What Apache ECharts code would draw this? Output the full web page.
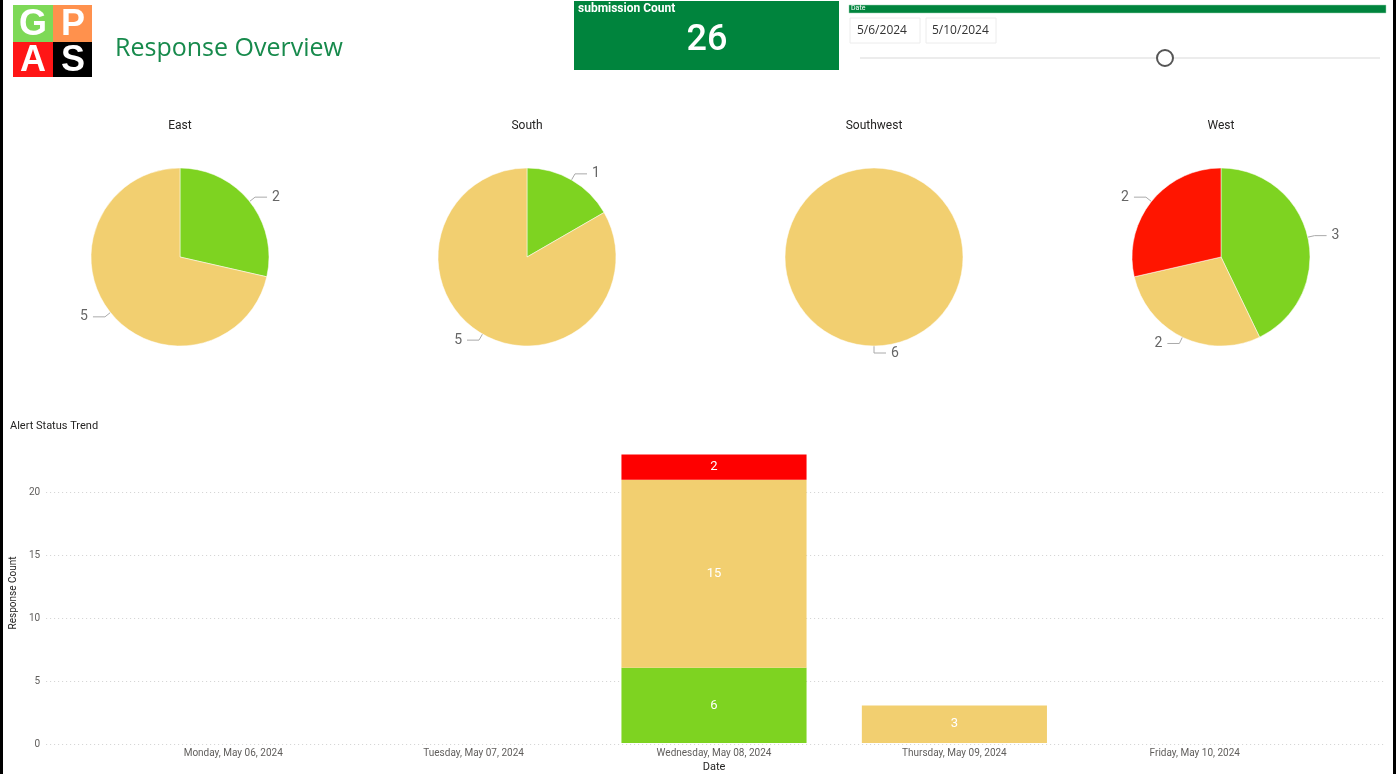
<!DOCTYPE html>
<html>
<head>
<meta charset="utf-8">
<title>Response Overview</title>
<script src="https://cdn.jsdelivr.net/npm/echarts@6/dist/echarts.min.js"></script>
<style>
  html, body { margin: 0; padding: 0; background: #fff; }
  #main { width: 1399px; height: 774px; }
</style>
</head>
<body>
<div id="main"></div>
<script>
// ---- data ----
var regions = ['East', 'South', 'Southwest', 'West'];
var statusNames = ['Green', 'Amber', 'Red'];
var regionGreen = [2, 1, 0, 3];
var regionAmber = [5, 5, 6, 2];
var regionRed = [0, 0, 0, 2];

var dates = ['Monday, May 06, 2024', 'Tuesday, May 07, 2024', 'Wednesday, May 08, 2024', 'Thursday, May 09, 2024', 'Friday, May 10, 2024'];
var trendGreen = [0, 0, 6, 0, 0];
var trendAmber = [0, 0, 15, 3, 0];
var trendRed = [0, 0, 2, 0, 0];

var submissionCount = 26;
var dateFrom = '5/6/2024';
var dateTo = '5/10/2024';

var GREEN = '#7ED321', AMBER = '#F2CF70', RED_PIE = '#FF1500', RED_BAR = '#FE0000';
var font = 'Roboto, "Noto Sans", sans-serif';

var myChart = echarts.init(document.getElementById('main'));

var pieCenters = [180, 527, 874, 1221];
var pieSeries = regions.map(function (r, i) {
    var d = [];
    if (regionGreen[i]) d.push({ value: regionGreen[i], name: statusNames[0], itemStyle: { color: GREEN } });
    if (regionAmber[i]) d.push({ value: regionAmber[i], name: statusNames[1], itemStyle: { color: AMBER } });
    if (regionRed[i]) d.push({ value: regionRed[i], name: statusNames[2], itemStyle: { color: RED_PIE } });
    return {
        name: r,
        type: 'pie',
        center: [pieCenters[i], 257],
        radius: 89,
        startAngle: 90,
        clockwise: true,
        animation: false,
        avoidLabelOverlap: false,
        itemStyle: { borderColor: '#fff', borderWidth: 0.5 },
        label: { show: true, formatter: '{c}', color: '#666', fontSize: 14, fontFamily: font },
        labelLine: { show: true, length: 7, length2: 12, lineStyle: { color: '#aaa', width: 1 } },
        emphasis: { disabled: true },
        data: d
    };
});

var barLabel = {
    show: true,
    color: '#fff',
    fontSize: 13,
    fontFamily: font,
    formatter: function (p) { return p.value ? p.value : ''; }
};

var pieTitles = regions.map(function (r, i) {
    return { type: 'text', x: pieCenters[i], y: 126, style: { text: r, fill: '#252423', font: '12px ' + font, align: 'center', verticalAlign: 'middle' } };
});

option = {
    backgroundColor: '#fff',
    animation: false,
    title: {
        text: 'Alert Status Trend',
        left: 5,
        top: 416,
        textStyle: { fontSize: 11, fontWeight: 'normal', color: '#252423', fontFamily: font }
    },
    grid: [
        { left: 40, right: 14, top: 442, bottom: 30 },
        { left: 113, right: 84, top: 442, bottom: 30 }
    ],
    xAxis: [
        { type: 'category', gridIndex: 0, data: dates, show: false },
        {
            type: 'category', gridIndex: 1, data: dates,
            axisLine: { show: false }, axisTick: { show: false },
            axisLabel: { color: '#605E5C', fontSize: 10, fontFamily: font, margin: 5 },
            name: 'Date', nameLocation: 'middle', nameGap: 19,
            nameTextStyle: { color: '#252423', fontSize: 11, fontFamily: font }
        }
    ],
    yAxis: [
        {
            type: 'value', gridIndex: 0, min: 0, max: 24, interval: 5,
            axisLine: { show: false }, axisTick: { show: false },
            axisLabel: { color: '#605E5C', fontSize: 10, fontFamily: font, margin: 6, showMaxLabel: false },
            splitLine: { show: true, showMaxLine: false, lineStyle: { color: '#d0d0d0', type: [1, 3], width: 1 } },
            name: 'Response Count', nameLocation: 'middle', nameGap: 25, nameRotate: 90,
            nameTextStyle: { color: '#252423', fontSize: 10, fontFamily: font }
        },
        { type: 'value', gridIndex: 1, min: 0, max: 24, show: false }
    ],
    series: pieSeries.concat([
        { name: statusNames[0], type: 'bar', stack: 'alert', xAxisIndex: 1, yAxisIndex: 1, barCategoryGap: '23%', itemStyle: { color: GREEN }, label: barLabel, data: trendGreen },
        { name: statusNames[1], type: 'bar', stack: 'alert', xAxisIndex: 1, yAxisIndex: 1, barCategoryGap: '23%', itemStyle: { color: AMBER }, label: barLabel, data: trendAmber },
        { name: statusNames[2], type: 'bar', stack: 'alert', xAxisIndex: 1, yAxisIndex: 1, barCategoryGap: '23%', itemStyle: { color: RED_BAR }, label: barLabel, data: trendRed }
    ]),
    graphic: pieTitles.concat([
        // page edges
        { type: 'rect', shape: { x: 0, y: 0, width: 3, height: 774 }, style: { fill: '#000' } },
        { type: 'rect', shape: { x: 1393, y: 0, width: 3, height: 774 }, style: { fill: '#000' } },
        // logo
        { type: 'rect', shape: { x: 13, y: 5, width: 40, height: 37 }, style: { fill: '#7ED957' } },
        { type: 'rect', shape: { x: 53, y: 5, width: 39, height: 37 }, style: { fill: '#FF914D' } },
        { type: 'rect', shape: { x: 13, y: 42, width: 40, height: 35 }, style: { fill: '#FF1616' } },
        { type: 'rect', shape: { x: 53, y: 42, width: 39, height: 35 }, style: { fill: '#000' } },
        { type: 'text', x: 33, y: 25, style: { text: 'G', fill: '#fff', font: 'bold 36px "Liberation Sans", Arial', align: 'center', verticalAlign: 'middle' } },
        { type: 'text', x: 73, y: 25, style: { text: 'P', fill: '#fff', font: 'bold 36px "Liberation Sans", Arial', align: 'center', verticalAlign: 'middle' } },
        { type: 'text', x: 33, y: 61, style: { text: 'A', fill: '#fff', font: 'bold 36px "Liberation Sans", Arial', align: 'center', verticalAlign: 'middle' } },
        { type: 'text', x: 73, y: 61, style: { text: 'S', fill: '#fff', font: 'bold 36px "Liberation Sans", Arial', align: 'center', verticalAlign: 'middle' } },
        // page title
        { type: 'text', x: 115, y: 49, style: { text: 'Response Overview', fill: '#178A4C', font: '25px "Open Sans", sans-serif', verticalAlign: 'middle' } },
        // card
        { type: 'rect', shape: { x: 574, y: 1, width: 265, height: 69 }, style: { fill: '#00843D' } },
        { type: 'text', x: 578, y: 3, style: { text: 'submission Count', fill: '#fff', font: 'bold 12px Roboto, sans-serif' } },
        { type: 'text', x: 707, y: 41, style: { text: String(submissionCount), fill: '#fff', font: '500 36px Roboto, sans-serif', align: 'center', verticalAlign: 'middle' } },
        // date slicer
        { type: 'rect', shape: { x: 849, y: 5, width: 537, height: 8 }, style: { fill: '#00843D', stroke: '#9fd4b4', lineWidth: 0.5 } },
        { type: 'text', x: 851, y: 5, style: { text: 'Date', fill: '#fff', font: '7px Roboto, sans-serif' } },
        { type: 'rect', shape: { x: 850, y: 18, width: 70, height: 25 }, style: { fill: '#fff', stroke: '#ececec', lineWidth: 1 } },
        { type: 'rect', shape: { x: 926, y: 18, width: 70, height: 25 }, style: { fill: '#fff', stroke: '#ececec', lineWidth: 1 } },
        { type: 'text', x: 857, y: 31, style: { text: dateFrom, fill: '#333', font: '12px "Open Sans", sans-serif', verticalAlign: 'middle' } },
        { type: 'text', x: 932, y: 31, style: { text: dateTo, fill: '#333', font: '12px "Open Sans", sans-serif', verticalAlign: 'middle' } },
        { type: 'line', shape: { x1: 860, y1: 58, x2: 1380, y2: 58 }, style: { stroke: '#ececec', lineWidth: 2 } },
        { type: 'circle', shape: { cx: 1165, cy: 58, r: 8 }, style: { fill: '#fff', stroke: '#555', lineWidth: 2 } }
    ])
};
myChart.setOption(option);
</script>
</body>
</html>
